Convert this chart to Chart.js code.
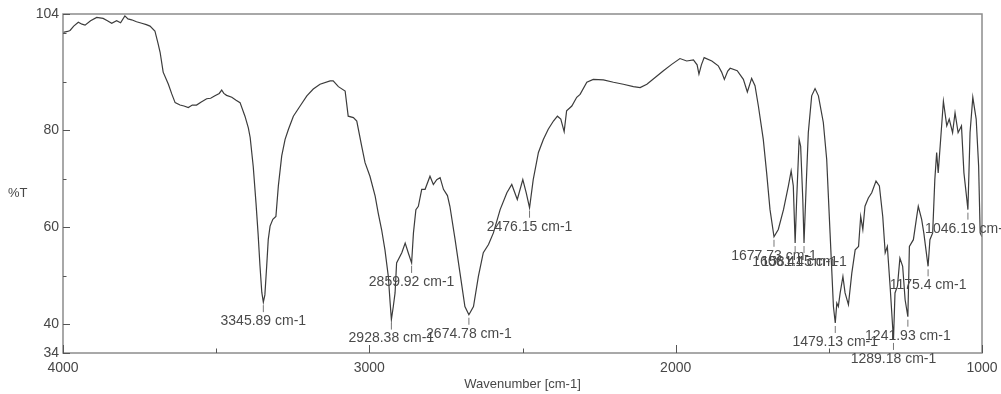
<!DOCTYPE html>
<html>
<head>
<meta charset="utf-8">
<script src="https://cdn.jsdelivr.net/npm/chart.js@4/dist/chart.umd.min.js"></script>
<style>
  body { margin: 0; background: #fff; }
  canvas { display: block; }
</style>
</head>
<body>
<canvas id="irChart" width="1001" height="394"></canvas>
<script>
// spectrum (wavenumber cm-1 / %T)
const wavenumbers = [
  4000, 3985, 3977, 3965, 3950, 3938, 3928, 3910, 3890, 3869, 3855, 3841, 3825, 3812, 3798, 3788,
  3776, 3760, 3743, 3728, 3716, 3700, 3690, 3683, 3673, 3656, 3645, 3634, 3618, 3605, 3591, 3578,
  3564, 3550, 3531, 3518, 3504, 3490, 3482, 3475, 3466, 3449, 3435, 3422, 3406, 3395, 3389, 3379,
  3370, 3363, 3357, 3351, 3346, 3341, 3335, 3330, 3324, 3315, 3305, 3297, 3286, 3275, 3264, 3248,
  3226, 3204, 3183, 3161, 3128, 3118, 3101, 3079, 3069, 3052, 3041, 3025, 3014, 2998, 2981, 2971,
  2960, 2949, 2938, 2932, 2928, 2922, 2916, 2911, 2894, 2883, 2873, 2862, 2856, 2848, 2840, 2829,
  2818, 2802, 2791, 2780, 2769, 2758, 2745, 2737, 2720, 2704, 2688, 2675, 2660, 2644, 2628, 2611,
  2595, 2573, 2551, 2535, 2517, 2499, 2488, 2477, 2465, 2448, 2432, 2416, 2399, 2386, 2375, 2364,
  2356, 2339, 2323, 2312, 2290, 2269, 2236, 2203, 2171, 2138, 2116, 2094, 2067, 2040, 2013, 1986,
  1964, 1942, 1930, 1924, 1916, 1907, 1882, 1861, 1850, 1841, 1830, 1822, 1799, 1779, 1766, 1752,
  1741, 1730, 1714, 1703, 1692, 1679, 1665, 1648, 1632, 1623, 1616, 1610, 1605, 1597, 1592, 1585,
  1581, 1574, 1567, 1556, 1545, 1534, 1518, 1507, 1496, 1485, 1479, 1474, 1469, 1463, 1454, 1447,
  1436, 1425, 1414, 1403, 1396, 1389, 1382, 1371, 1360, 1346, 1335, 1324, 1316, 1309, 1300, 1289,
  1284, 1276, 1268, 1259, 1251, 1242, 1237, 1224, 1213, 1208, 1197, 1190, 1176, 1170, 1161, 1154,
  1148, 1143, 1135, 1126, 1115, 1107, 1096, 1088, 1078, 1067, 1059, 1050, 1046, 1039, 1030, 1019,
  1011, 1006, 1000
];
const transmittance = [
  100.2, 100.4, 100.6, 101.5, 102.3, 101.9, 101.7, 102.6, 103.3, 103.1, 102.6, 102.1, 102.6, 102.2, 103.6, 103.0,
  102.8, 102.4, 102.1, 101.8, 101.5, 100.5, 98.0, 96.1, 92.0, 89.5, 87.5, 85.7, 85.2, 85.0, 84.7, 85.2,
  85.2, 85.8, 86.5, 86.6, 87.1, 87.6, 88.3, 87.6, 87.2, 86.8, 86.2, 85.7, 82.9, 80.5, 78.5, 72.5,
  65.0, 58.5, 52.0, 46.5, 44.5, 46.0, 52.0, 57.4, 60.2, 61.6, 62.2, 68.5, 74.7, 78.1, 80.2, 82.9,
  85.0, 87.1, 88.5, 89.5, 90.2, 90.2, 89.0, 88.1, 82.9, 82.6, 81.9, 76.7, 73.3, 70.5, 66.4, 62.9,
  59.5, 55.3, 49.8, 44.3, 40.9, 43.5, 46.4, 52.6, 54.7, 56.7, 54.7, 52.6, 58.8, 63.6, 64.3, 67.8,
  67.8, 70.5, 68.8, 69.8, 70.2, 67.8, 66.5, 64.3, 57.4, 50.5, 43.6, 41.9, 43.6, 49.8, 54.7, 56.4,
  58.8, 63.6, 67.1, 68.8, 65.7, 69.8, 67.1, 64.0, 69.8, 75.4, 78.1, 80.2, 81.9, 82.9, 82.3, 79.7,
  84.0, 85.0, 86.8, 87.4, 89.9, 90.5, 90.4, 89.9, 89.5, 89.0, 88.8, 89.5, 90.9, 92.3, 93.6, 94.8,
  94.3, 94.5, 93.5, 91.6, 93.5, 95.0, 94.3, 93.3, 92.0, 90.5, 92.2, 92.8, 92.3, 90.5, 87.9, 90.7,
  89.2, 85.0, 78.1, 71.2, 63.6, 58.0, 59.5, 63.6, 68.5, 71.6, 68.5, 56.7, 65.7, 78.1, 76.7, 65.7,
  56.7, 68.5, 79.5, 87.1, 88.6, 87.1, 81.6, 74.0, 58.8, 43.6, 40.2, 44.3, 43.6, 46.4, 49.8, 46.4,
  44.0, 50.5, 55.3, 56.0, 62.2, 59.5, 64.3, 66.0, 67.1, 69.5, 68.5, 62.2, 54.7, 56.0, 47.8, 36.7,
  46.4, 47.8, 53.6, 51.9, 45.0, 41.5, 56.0, 57.4, 62.2, 64.3, 61.6, 58.8, 51.9, 57.4, 58.8, 69.8,
  75.4, 71.2, 78.1, 86.0, 80.9, 82.3, 79.5, 83.6, 79.5, 80.9, 71.2, 66.0, 63.6, 79.5, 86.8, 82.3,
  72.6, 58.8, 58.0
];

// picked peaks
const peakLabels = ['3345.89 cm-1', '2928.38 cm-1', '2859.92 cm-1', '2674.78 cm-1', '2476.15 cm-1',
  '1677.73 cm-1', '1606.41 cm-1', '1581.45 cm-1', '1479.13 cm-1', '1289.18 cm-1', '1241.93 cm-1',
  '1175.4 cm-1', '1046.19 cm-1'];
const peakWn = [3346, 2928, 2862, 2675, 2477, 1679, 1610, 1581, 1479, 1289, 1242, 1176, 1046];
const peakT = [44.5, 40.9, 52.6, 41.9, 64.0, 58.0, 56.7, 56.7, 40.2, 36.7, 41.5, 51.9, 63.6];

// axes
const yTickValues = [34, 40, 50, 60, 70, 80, 90, 100, 104];
const yTickLabels = [34, 40, 60, 80, 104];
const xTickValues = [4000, 3500, 3000, 2500, 2000, 1500, 1000];
const xTickLabels = [4000, 3000, 2000, 1000];

const textColor = '#474747';
const font = 'Liberation Sans, Arial, sans-serif';

const points = wavenumbers.map((w, i) => ({ x: w, y: transmittance[i] }));

const frame = {
  id: 'frame',
  afterDraw(chart) {
    const { ctx, chartArea: a, scales: { x, y } } = chart;
    ctx.save();
    // box
    ctx.strokeStyle = '#8c8c8c';
    ctx.lineWidth = 1.5;
    ctx.strokeRect(a.left, a.top, a.right - a.left, a.bottom - a.top);
    // inward ticks
    ctx.strokeStyle = '#555';
    ctx.lineWidth = 1;
    ctx.beginPath();
    yTickValues.forEach(v => {
      const py = Math.round(y.getPixelForValue(v)) + 0.5;
      const len = yTickLabels.includes(v) ? 7 : 3.5;
      ctx.moveTo(a.left, py);
      ctx.lineTo(a.left + len, py);
    });
    xTickValues.forEach(v => {
      const px = Math.round(x.getPixelForValue(v)) + 0.5;
      const len = xTickLabels.includes(v) ? 8 : 4.5;
      ctx.moveTo(px, a.bottom);
      ctx.lineTo(px, a.bottom - len);
    });
    ctx.stroke();

    // peak picks
    ctx.font = '14px ' + font;
    ctx.fillStyle = '#4a4a4a';
    ctx.textAlign = 'center';
    ctx.textBaseline = 'middle';
    ctx.strokeStyle = '#777';
    peakWn.forEach((w, i) => {
      const px = x.getPixelForValue(w);
      const py = y.getPixelForValue(peakT[i]);
      ctx.beginPath();
      ctx.moveTo(px, py + 3);
      ctx.lineTo(px, py + 10);
      ctx.stroke();
      ctx.fillText(peakLabels[i], px, py + 19);
    });

    // axis titles
    ctx.font = '13px ' + font;
    ctx.fillStyle = textColor;
    ctx.textAlign = 'left';
    ctx.fillText('%T', 8, 193);
    ctx.textAlign = 'center';
    ctx.fillText('Wavenumber [cm-1]', (a.left + a.right) / 2, 384);
    ctx.restore();
  }
};

new Chart(document.getElementById('irChart'), {
  type: 'line',
  data: {
    datasets: [{
      data: points,
      borderColor: '#3c3c3c',
      borderWidth: 1.2,
      pointRadius: 0,
      tension: 0,
      fill: false
    }]
  },
  options: {
    responsive: false,
    animation: false,
    layout: { padding: { top: 14, right: 19, left: 0, bottom: 0 } },
    plugins: { legend: { display: false }, tooltip: { enabled: false } },
    scales: {
      x: {
        type: 'linear',
        min: 1000,
        max: 4000,
        reverse: true,
        afterBuildTicks: s => { s.ticks = xTickValues.map(v => ({ value: v })); },
        afterFit: s => { s.height = 41; s.paddingLeft = 0; s.paddingRight = 0; },
        ticks: {
          autoSkip: false,
          maxRotation: 0,
          padding: 7,
          color: textColor,
          font: { family: font, size: 14 },
          callback: v => xTickLabels.includes(v) ? String(v) : ''
        },
        grid: { drawOnChartArea: false, drawTicks: false },
        border: { display: false }
      },
      y: {
        min: 34,
        max: 104,
        afterBuildTicks: s => { s.ticks = yTickValues.map(v => ({ value: v })); },
        afterFit: s => { s.width = 63; s.paddingTop = 0; s.paddingBottom = 0; },
        ticks: {
          autoSkip: false,
          padding: 4,
          color: textColor,
          font: { family: font, size: 14 },
          callback: v => yTickLabels.includes(v) ? String(v) : ''
        },
        grid: { drawOnChartArea: false, drawTicks: false },
        border: { display: false }
      }
    }
  },
  plugins: [frame]
});
</script>
</body>
</html>
